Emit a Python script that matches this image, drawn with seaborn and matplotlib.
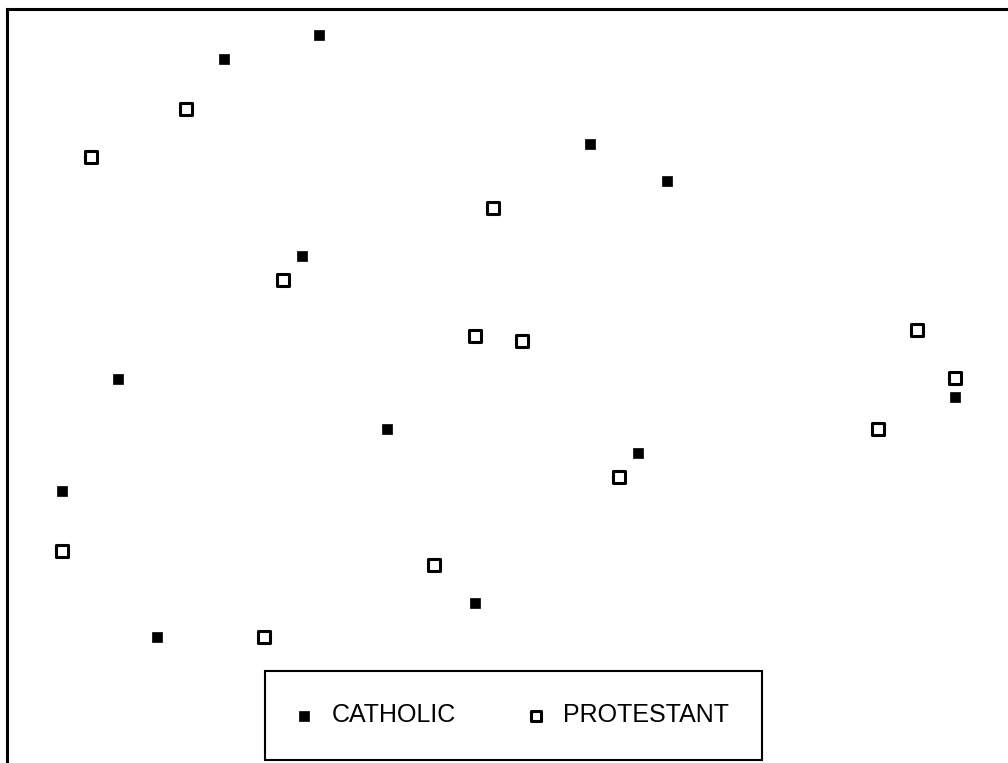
import pandas as pd
import seaborn as sns
import matplotlib.pyplot as plt

# point scores
cath_x = [31.2, 21.7, 58.3, 66.0, 29.5, 11.1, 38.0, 94.8, 63.1, 5.5, 46.8, 15.0]
cath_y = [72.8, 70.4, 61.9, 58.2, 50.7, 38.4, 33.4, 36.6, 31.0, 27.2, 16.0, 12.6]
prot_x = [17.9, 8.4, 48.6, 27.6, 46.8, 51.5, 91.0, 94.8, 87.1, 61.2, 5.5, 42.7, 25.7]
prot_y = [65.4, 60.6, 55.5, 48.3, 42.7, 42.2, 43.3, 38.5, 33.4, 28.6, 21.2, 19.8, 12.6]
groups = ["CATHOLIC", "PROTESTANT"]

cath = pd.DataFrame({"x": cath_x, "y": cath_y})
prot = pd.DataFrame({"x": prot_x, "y": prot_y})

sns.set_style("white")
plt.rcParams["font.family"] = ["Liberation Sans", "DejaVu Sans"]

fig = plt.figure(figsize=(10.08, 7.63), dpi=100)
ax = fig.add_axes([7 / 1008, 0, 1001 / 1008, 754 / 763])

sns.scatterplot(data=cath, x="x", y="y", marker="s", s=52, color="black",
                edgecolor="black", linewidth=0.5, label=groups[0], ax=ax)
sns.scatterplot(data=prot, x="x", y="y", marker="s", s=74, color="white",
                edgecolor="black", linewidth=2.2, label=groups[1], ax=ax)

ax.set_xlim(0, 100.1)
ax.set_ylim(0, 75.4)
ax.set_xticks([])
ax.set_yticks([])
ax.set_xlabel("")
ax.set_ylabel("")
for side in ["right", "bottom"]:
    ax.spines[side].set_visible(False)
for side in ["left", "top"]:
    ax.spines[side].set_color("black")
    ax.spines[side].set_linewidth(2.2)

# legend box at the bottom centre
leg = ax.legend(ncol=2, loc="lower center", bbox_to_anchor=(0.506, 0.0),
                fontsize=18, frameon=True, fancybox=False, framealpha=1,
                markerscale=0.9, handlelength=0.5, handletextpad=0.85,
                columnspacing=2.95, borderpad=1.3, borderaxespad=0.12)
leg.get_frame().set_edgecolor("black")
leg.get_frame().set_linewidth(1.5)
for t in leg.get_texts():
    t.set_color("black")

fig.savefig("out.png", dpi=100)
